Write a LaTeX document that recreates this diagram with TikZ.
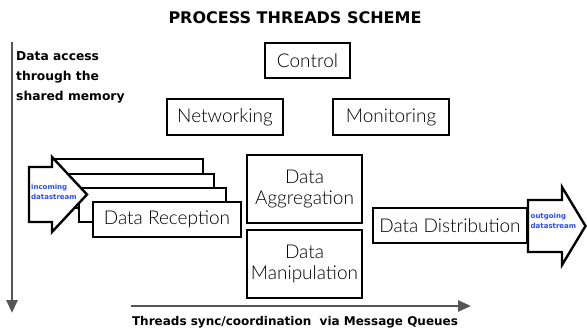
\documentclass[tikz,border=0pt]{standalone}
\usepackage{fontspec}
\setmainfont{Lato}[UprightFont={* Light}, BoldFont={* Black}]
\newfontfamily\boldfont{DejaVu Sans}
\usetikzlibrary{arrows.meta}
\definecolor{axisgray}{HTML}{555555}
\definecolor{streamblue}{HTML}{2A4BFF}
\tikzset{
  box/.style={draw=black, line width=1.2pt, fill=white, inner sep=0pt, font=\fontsize{19}{21.5}\selectfont, align=center},
  backbox/.style={draw=black, line width=1.2pt, fill=white, inner sep=0pt},
  fatarrow/.style={draw=black, line width=2.4pt, fill=white, line join=miter},
  axis/.style={draw=axisgray, line width=2.6pt, -{Triangle[length=13pt,width=11pt]}},
  boldlbl/.style={font=\boldfont\bfseries\fontsize{12.3}{20}\selectfont, inner sep=0pt, align=left},
  streamlbl/.style={font=\boldfont\bfseries\fontsize{7}{9.5}\selectfont, text=streamblue, inner sep=0pt, align=left}
}
\begin{document}
\begin{tikzpicture}[x=1pt,y=-1pt]
\useasboundingbox (0,0) rectangle (587,329);
% title
\node[font=\boldfont\bfseries\fontsize{16}{18}\selectfont, inner sep=0pt] (title) at (295,18) {PROCESS THREADS SCHEME};
% axes
\coordinate (vtop) at (12,42);
\coordinate (vbot) at (12,313);
\draw[axis] (vtop) -- (vbot);
\coordinate (hl) at (131,306);
\coordinate (hr) at (471,306);
\draw[axis] (hl) -- (hr);
\node[boldlbl, anchor=north west] (shm) at (16,51) {Data access\\through the\\shared memory};
\node[boldlbl, font=\boldfont\bfseries\fontsize{12}{14}\selectfont] (mq) at (295,322) {Threads sync/coordination\ \ via Message Queues};
% top boxes
\node[box, minimum width=85pt, minimum height=35pt] (ctrl) at (307.5,60.5) {Control};
\node[box, minimum width=116pt, minimum height=36pt] (net) at (225,117) {Networking};
\node[box, minimum width=116pt, minimum height=36pt] (mon) at (391,117) {Monitoring};
% reception stack
\node[backbox, minimum width=148pt, minimum height=35pt] (r1) at (129,176.5) {};
\node[backbox, minimum width=147pt, minimum height=34pt] (r2) at (140.5,191) {};
\node[backbox, minimum width=147pt, minimum height=34pt] (r3) at (152.5,205) {};
% incoming arrow
\draw[fatarrow] (29,167) -- (52,167) -- (52,157) -- (87,194.5) -- (52,232) -- (52,222) -- (29,222) -- cycle;
\node[streamlbl, anchor=west] (inc) at (31,192) {incoming\\datastream};
\node[box, minimum width=148pt, minimum height=35pt] (recv) at (167,219.5) {Data Reception};
% middle boxes
\node[box, minimum width=115pt, minimum height=68pt] (agg) at (304.5,189) {Data\\Aggregation};
\node[box, minimum width=115pt, minimum height=68pt] (man) at (304.5,264) {Data\\Manipulation};
\node[box, minimum width=154pt, minimum height=35pt] (dist) at (450,225.5) {Data Distribution};
% outgoing arrow
\draw[fatarrow] (528,200) -- (562,200) -- (562,187) -- (585.5,226) -- (562,265) -- (562,252) -- (528,252) -- cycle;
\node[streamlbl, anchor=west] (out) at (530.5,221) {outgoing\\datastream};
\end{tikzpicture}
\end{document}
